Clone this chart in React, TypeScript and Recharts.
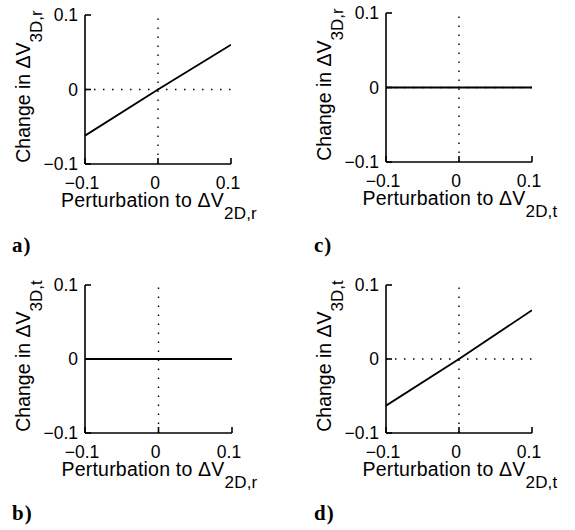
import React from 'react'
import { LineChart, Line, XAxis, YAxis, ReferenceLine } from 'recharts'

// perturbation values along the x axis (shared by all panels)
const perturbation = [-0.1, 0, 0.1]

// response of each panel
const responseA = [-0.062, 0, 0.06] // 3D,r vs 2D,r
const responseB = [0, 0, 0] // 3D,t vs 2D,r
const responseC = [0, 0, 0] // 3D,r vs 2D,t
const responseD = [-0.063, 0, 0.066] // 3D,t vs 2D,t

const axisTicks = [-0.1, 0, 0.1]
const tickLabels = ['\u22120.1', '0', '0.1']

const panelLetters = ['a)', 'b)', 'c)', 'd)']
const ySubs = ['3D,r', '3D,t', '3D,r', '3D,t']
const xSubs = ['2D,r', '2D,r', '2D,t', '2D,t']

const SANS = '"Liberation Sans", Arial, Helvetica, sans-serif'
const SERIF = '"Liberation Serif", "Times New Roman", serif'

const fmt = (v: number) => {
  const i = axisTicks.indexOf(v)
  return i >= 0 ? tickLabels[i] : String(v)
}

type PanelProps = {
  values: number[]
  plotLeft: number
  plotTop: number
  pw: number
  ph: number
  letter: string
  letterX: number
  letterY: number
  ySub: string
  xSub: string
}

const Y_W = 60
const M_LEFT = 25
const M_TOP = 20
const M_RIGHT = 60
const X_H = 30
const M_BOTTOM = 40

// ticks without a label (top and right edges of the box)
const NoLabel = () => <g />

function Panel({ values, plotLeft, plotTop, pw, ph }: PanelProps) {
  const data = perturbation.map((x, i) => ({ x, y: values[i] }))
  const width = M_LEFT + Y_W + pw + M_RIGHT
  const height = M_TOP + ph + X_H + M_BOTTOM
  const tickStyle = { fill: '#000', fontSize: 17.5, fontFamily: SANS }

  return (
    <div style={{ position: 'absolute', left: plotLeft - M_LEFT - Y_W, top: plotTop - M_TOP }}>
      <LineChart
        width={width}
        height={height}
        data={data}
        margin={{ top: M_TOP, left: M_LEFT, right: M_RIGHT, bottom: M_BOTTOM }}
      >
        <XAxis
          dataKey="x"
          type="number"
          domain={[-0.1, 0.1]}
          ticks={axisTicks}
          tickFormatter={fmt}
          allowDataOverflow
          height={X_H}
          stroke="#000"
          strokeWidth={1.6}
          tickSize={-6}
          tickMargin={19}
          tick={{ ...tickStyle, dx: -3 }}
        />
        <XAxis
          xAxisId="top"
          orientation="top"
          dataKey="x"
          type="number"
          domain={[-0.1, 0.1]}
          ticks={axisTicks}
          height={0}
          stroke="#000"
          strokeWidth={1.6}
          tickSize={-7}
          tick={NoLabel}
        />
        <YAxis
          type="number"
          domain={[-0.1, 0.1]}
          ticks={axisTicks}
          tickFormatter={fmt}
          allowDataOverflow
          width={Y_W}
          stroke="#000"
          strokeWidth={1.6}
          tickSize={-6}
          tickMargin={13}
          tick={tickStyle}
        />
        <YAxis
          yAxisId="right"
          orientation="right"
          type="number"
          domain={[-0.1, 0.1]}
          ticks={axisTicks}
          width={0}
          stroke="#000"
          strokeWidth={1.6}
          tickSize={-7}
          tick={NoLabel}
        />
        <ReferenceLine x={0} stroke="#000" strokeWidth={1.4} strokeDasharray="1.5 7.5" />
        <ReferenceLine y={0} stroke="#000" strokeWidth={1.4} strokeDasharray="1.5 7.5" />
        <Line
          type="linear"
          dataKey="y"
          stroke="#000"
          strokeWidth={1.8}
          dot={false}
          activeDot={false}
          isAnimationActive={false}
        />
      </LineChart>
    </div>
  )
}

function Labels({ p }: { p: PanelProps }) {
  const cx = p.plotLeft + p.pw / 2 + 1
  const by = p.plotTop + p.ph + 43
  const yx = p.plotLeft - 55
  const yy = p.plotTop + p.ph / 2 - 3
  return (
    <g fill="#000" fontFamily={SANS}>
      <text x={cx} y={by} textAnchor="middle" fontSize={19.5} letterSpacing={0.2}>
        <tspan>Perturbation to ΔV</tspan>
        <tspan dy={12} fontSize={17}>{p.xSub}</tspan>
      </text>
      <text x={yx} y={yy} textAnchor="middle" fontSize={19.5} transform={`rotate(-90, ${yx}, ${yy})`}>
        <tspan>Change in ΔV</tspan>
        <tspan dy={12} fontSize={17}>{p.ySub}</tspan>
      </text>
      <text x={p.letterX} y={p.letterY} fontFamily={SERIF} fontWeight="bold" fontSize={21} letterSpacing={1}>
        {p.letter}
      </text>
    </g>
  )
}

export default function App() {
  const panels: PanelProps[] = [
    { values: responseA, plotLeft: 85, plotTop: 15, pw: 146, ph: 149, letter: panelLetters[0], letterX: 12, letterY: 252, ySub: ySubs[0], xSub: xSubs[0] },
    { values: responseB, plotLeft: 85, plotTop: 285, pw: 147, ph: 148, letter: panelLetters[1], letterX: 12, letterY: 520, ySub: ySubs[1], xSub: xSubs[1] },
    { values: responseC, plotLeft: 386, plotTop: 13, pw: 146, ph: 149, letter: panelLetters[2], letterX: 314, letterY: 252, ySub: ySubs[2], xSub: xSubs[2] },
    { values: responseD, plotLeft: 386, plotTop: 285, pw: 146, ph: 148, letter: panelLetters[3], letterX: 314, letterY: 520, ySub: ySubs[3], xSub: xSubs[3] },
  ]

  return (
    <div style={{ position: 'absolute', left: 0, top: 0, width: 575, height: 530, background: '#fff' }}>
      {panels.map((p) => (
        <Panel key={p.letter} {...p} />
      ))}
      <svg width={575} height={530} style={{ position: 'absolute', left: 0, top: 0, pointerEvents: 'none' }}>
        {panels.map((p) => (
          <Labels key={p.letter} p={p} />
        ))}
      </svg>
    </div>
  )
}
